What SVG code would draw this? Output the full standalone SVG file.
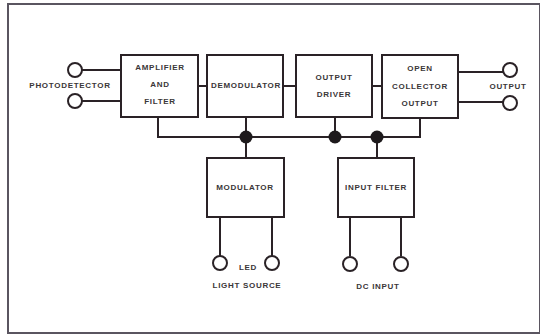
<svg xmlns="http://www.w3.org/2000/svg" width="540" height="335" viewBox="0 0 540 335">
<style>
.box{fill:#fff;stroke:#2a2226;stroke-width:2}
.ln{fill:none;stroke:#2a2226;stroke-width:2}
.term{fill:#fff;stroke:#2a2226;stroke-width:2}
.dot{fill:#1e1a1c}
text{font-family:"Liberation Sans",Arial,sans-serif;font-size:8px;letter-spacing:0.7px;font-weight:bold;fill:#3a3638;text-anchor:middle}
</style>
<rect width="540" height="335" fill="#fff"/>
<rect x="8" y="4" width="532" height="329" fill="none" stroke="#5a5560" stroke-width="2"/>
<g id="connectors">
<path class="ln" d="M82 70H121M82 101H121"/>
<path class="ln" d="M198 86H207M283 86H296M372 86H382"/>
<path class="ln" d="M458 72H503M458 102H503"/>
<path class="ln" d="M158 117V137H420V118"/>
<path class="ln" d="M246 117V158M335 117V137M377 137V158"/>
<path class="ln" d="M220 217V256M272 217V256M350 217V256M401 217V256"/>
<circle class="dot" cx="246" cy="137" r="6.5"/>
<circle class="dot" cx="335" cy="137" r="6.5"/>
<circle class="dot" cx="377" cy="137" r="6.5"/>
</g>
<g id="photodetector">
<circle class="term" cx="75" cy="70" r="7"/>
<circle class="term" cx="75" cy="101" r="7"/>
<text x="70" y="88">PHOTODETECTOR</text>
</g>
<g id="amplifier">
<rect class="box" x="121" y="55" width="77" height="62"/>
<text x="160" y="70">AMPLIFIER</text>
<text x="160" y="87">AND</text>
<text x="160" y="104">FILTER</text>
</g>
<g id="demodulator">
<rect class="box" x="207" y="55" width="76" height="62"/>
<text x="246" y="88">DEMODULATOR</text>
</g>
<g id="output-driver">
<rect class="box" x="296" y="55" width="76" height="62"/>
<text x="334" y="80">OUTPUT</text>
<text x="334" y="97">DRIVER</text>
</g>
<g id="open-collector">
<rect class="box" x="382" y="55" width="76" height="63"/>
<text x="420" y="71">OPEN</text>
<text x="420" y="89">COLLECTOR</text>
<text x="420" y="106">OUTPUT</text>
</g>
<g id="output">
<circle class="term" cx="510" cy="70" r="7"/>
<circle class="term" cx="510" cy="103" r="7"/>
<text x="508" y="89">OUTPUT</text>
</g>
<g id="modulator">
<rect class="box" x="207" y="158" width="77" height="59"/>
<text x="245" y="190">MODULATOR</text>
</g>
<g id="input-filter">
<rect class="box" x="338" y="158" width="76" height="59"/>
<text x="376" y="190">INPUT FILTER</text>
</g>
<g id="led-light-source">
<circle class="term" cx="220" cy="263" r="7"/>
<circle class="term" cx="272" cy="263" r="7"/>
<text x="248" y="270">LED</text>
<text x="247" y="288">LIGHT SOURCE</text>
</g>
<g id="dc-input">
<circle class="term" cx="350" cy="264" r="7"/>
<circle class="term" cx="401" cy="264" r="7"/>
<text x="378" y="289">DC INPUT</text>
</g>
</svg>
